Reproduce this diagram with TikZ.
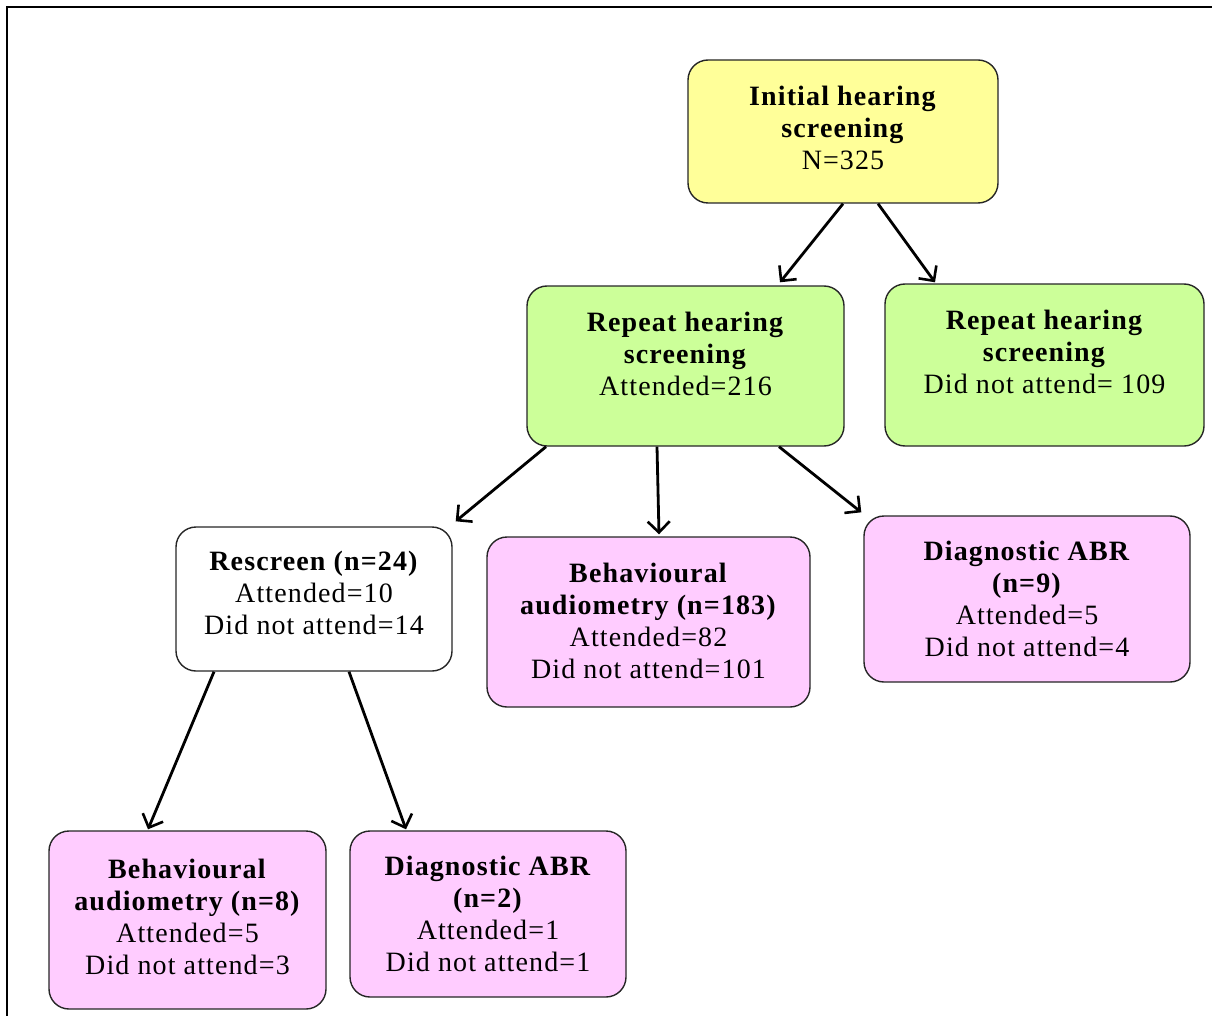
\documentclass[tikz,border=0pt]{standalone}
\usepackage{fontspec}
\setmainfont[LetterSpace=4]{Liberation Serif}
\usetikzlibrary{arrows.meta}
\definecolor{boxyellow}{HTML}{FFFF99}
\definecolor{boxgreen}{HTML}{CCFF99}
\definecolor{boxpink}{HTML}{FFCCFF}
\tikzset{
  box/.style={draw=black!85, line width=1.4pt, rounded corners=20pt, align=center,
    inner sep=0pt, text depth=6pt, font=\fontsize{28}{32}\selectfont},
  arr/.style={line width=2.8pt, -{Straight Barb[length=11pt,width=22pt,line width=2.6pt]}},
  frameline/.style={line width=2pt, black}
}
\begin{document}
\begin{tikzpicture}[x=1pt,y=-1pt]
\useasboundingbox (0,0) rectangle (1212,1016);
\draw[frameline] (1212,7) -- (7,7) -- (7,1016);

\node[box, fill=boxyellow, minimum width=310pt, minimum height=143pt, text depth=8pt] (init) at (843,131.5)
  {\textbf{Initial hearing}\\ \textbf{screening}\\ N=325};
\node[box, fill=boxgreen, minimum width=317pt, minimum height=160pt, text depth=25pt] (rep) at (685.5,366)
  {\textbf{Repeat hearing}\\ \textbf{screening}\\ Attended=216};
\node[box, fill=boxgreen, minimum width=319pt, minimum height=162pt, text depth=27pt] (repn) at (1044.5,365)
  {\textbf{Repeat hearing}\\ \textbf{screening}\\ Did not attend= 109};
\node[box, fill=white, minimum width=276pt, minimum height=144pt, text depth=12pt] (resc) at (314,599)
  {\textbf{Rescreen (n=24)}\\ Attended=10\\ Did not attend=14};
\node[box, fill=boxpink, minimum width=323pt, minimum height=170pt, text depth=3pt] (beh) at (648.5,622)
  {\textbf{Behavioural}\\ \textbf{audiometry (n=183)}\\ Attended=82\\ Did not attend=101};
\node[box, fill=boxpink, minimum width=326pt, minimum height=166pt, text depth=0pt] (diag) at (1027,599)
  {\textbf{Diagnostic ABR}\\ \textbf{(n=9)}\\ Attended=5\\ Did not attend=4};
\node[box, fill=boxpink, minimum width=277pt, minimum height=178pt, text depth=6pt] (beh8) at (187.5,920)
  {\textbf{Behavioural}\\ \textbf{audiometry (n=8)}\\ Attended=5\\ Did not attend=3};
\node[box, fill=boxpink, minimum width=276pt, minimum height=166pt, text depth=0pt] (diag2) at (488,914)
  {\textbf{Diagnostic ABR}\\ \textbf{(n=2)}\\ Attended=1\\ Did not attend=1};

\draw[arr] (init.south) -- ([xshift=94.5pt,yshift=3pt]rep.north);
\draw[arr] ([xshift=35pt]init.south) -- ([xshift=-109.5pt,yshift=1pt]repn.north);
\draw[arr] ([xshift=-139.5pt]rep.south) -- ([xshift=3pt,yshift=5pt]resc.north east);
\draw[arr] ([xshift=-28.5pt]rep.south) -- ([xshift=10.5pt,yshift=2pt]beh.north);
\draw[arr] ([xshift=93.5pt]rep.south) -- ([xshift=-2pt,yshift=3pt]diag.north west);
\draw[arr] ([xshift=-100pt]resc.south) -- ([xshift=-39.5pt,yshift=1pt]beh8.north);
\draw[arr] ([xshift=35pt]resc.south) -- ([xshift=-82pt,yshift=1pt]diag2.north);
\end{tikzpicture}
\end{document}
